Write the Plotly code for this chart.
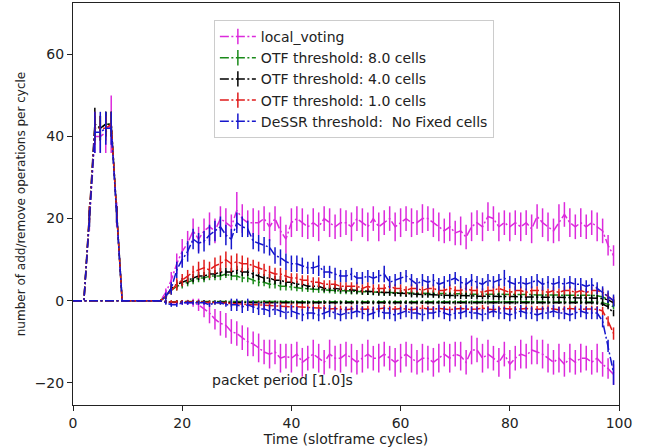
import plotly.graph_objects as go

# ---------------- data (x = slotframe cycle index 0..99) ----------------
lv_add = [0,0,0,19,40,40,41,43,21,0,
          0,0,0,0,0,0,0,2,5,9,
          12,14,17,15,17,18,17,20,19,18,
          22,20,19,19,19,20,18,20,17,15,
          19,20,19,18,19,18,20,19,18,19,
          19,18,20,19,18,20,18,19,20,18,
          19,20,19,19,20,20,19,18,17,18,
          16.5,17,15.5,18,19,18,20.5,20,18,19,
          18,19,18,19,17.5,20.5,19,18,17,19,
          21,19,18,19,18,19,18,17,13.5,11]
lv_add_err = [0,0,0,2,4,4,5,7,3,0,
              0,0,0,0,0,0,0,1,2,2.5,
              3,3,3,3,3,3.5,3,3,3.5,3,
              4.5,3.5,3,3.5,3,3,3.5,3,3.5,3.5,
              3.5,3,3.5,3,3.5,3.5,3,3.5,3,3.5,
              3,3.5,3,3.5,3.5,3,3.5,3,3,3.5,
              3.5,3,3.5,3,3.5,3,3.5,3.5,3,3.5,
              3,3.5,3,3.5,3,3.5,3.5,3,3.5,3,
              3.5,3,3.5,3,3.5,3,3.5,3.5,3,4.5,
              3,3.5,3,3.5,3,3,3.5,3,2.5,2.5]
lv_rem = [0,0,0,0,0,0,0,0,0,0,
          0,0,0,0,0,0,0,0,-0.5,-0.5,
          -0.5,-0.5,-0.5,-1,-2,-3,-4.5,-5.5,-6,-7.5,
          -8,-9,-10,-10.5,-11.5,-12.5,-13,-12.5,-14,-13.5,
          -14,-13,-15,-14,-13,-14,-15,-13,-14,-14,
          -13,-14,-15,-14,-13,-14,-14,-13,-14,-15,
          -14,-13,-14,-15,-14,-14,-15,-14,-13,-14,
          -13,-13.5,-15,-12,-12,-14,-13,-14,-15,-13,
          -15.5,-14,-13,-13.5,-12,-12.5,-13,-14,-15,-14,
          -15.5,-14,-15,-14,-14,-15,-14,-15.5,-16.5,-18]
lv_rem_err = [0,0,0,0,0,0,0,0,0,0,
              0,0,0,0,0,0,0,0,0.5,0.5,
              0.5,0.5,1,1.5,2,2.5,2.5,3,3,3,
              3,3,3.5,3,3.5,3,3.5,3,3.5,3,
              3.5,3,3.5,3,3.5,3.5,3,3.5,3,3.5,
              3,3.5,3,3.5,3.5,3,3.5,3,3,3.5,
              3.5,3,3.5,3,3.5,3,3.5,3.5,3,3.5,
              3,3.5,3,3.5,3,3.5,3.5,3,3.5,3,
              3.5,3,3.5,3,3.5,3,3.5,3.5,3,3.5,
              3,3.5,3,3.5,3,3,3.5,3,2.5,2.5]

otf8_add = [0,0,0,20,42,42,43,43,21,0,
            0,0,0,0,0,0,0,1,2.5,3.5,
            4,4.5,5,5.5,5.5,6,6,6,6.5,6,
            6,5.5,5.5,5,4.5,4.5,4,4,3.5,3.5,
            3.3,3.1,3,2.9,2.8,2.7,2.6,2.6,2.5,2.4,
            2.4,2.3,2.3,2.2,2.2,2.1,2.1,2,2,2,
            1.9,1.9,1.9,1.8,1.8,1.8,1.8,1.7,1.7,1.7,
            1.7,1.7,1.6,1.6,1.6,1.6,1.6,1.6,1.5,1.5,
            1.5,1.5,1.5,1.5,1.5,1.4,1.4,1.4,1.4,1.4,
            1.4,1.3,1.3,1.3,1.3,1.3,1.2,0.9,0.3,-0.5]
otf8_add_err = [0,0,0,2,3,3,3,3,2,0,
                0,0,0,0,0,0,0,0.5,1,1,
                1,1,1,1,1,1,1,1,1,1,
                1,1,1,1,1,1,1,1,1,1,
                0.8,0.8,0.8,0.8,0.8,0.8,0.8,0.8,0.8,0.8,
                0.8,0.8,0.8,0.8,0.8,0.8,0.8,0.8,0.8,0.8,
                0.8,0.8,0.8,0.8,0.8,0.8,0.8,0.8,0.8,0.8,
                0.8,0.8,0.8,0.8,0.8,0.8,0.8,0.8,0.8,0.8,
                0.8,0.8,0.8,0.8,0.8,0.8,0.8,0.8,0.8,0.8,
                0.8,0.8,0.8,0.8,0.8,0.8,0.8,0.8,0.8,0.8]
otf8_rem = [0,0,0,0,0,0,0,0,0,0,
            0,0,0,0,0,0,0,-0.2,-0.3,-0.2,
            -0.2,-0.2,-0.2,-0.2,-0.2,-0.2,-0.2,-0.2,-0.2,-0.2,
            -0.2,-0.2,-0.2,-0.2,-0.2,-0.2,-0.2,-0.2,-0.2,-0.2,
            -0.2,-0.2,-0.2,-0.2,-0.2,-0.2,-0.2,-0.2,-0.2,-0.2,
            -0.2,-0.2,-0.2,-0.2,-0.2,-0.2,-0.2,-0.2,-0.2,-0.2,
            -0.2,-0.2,-0.2,-0.2,-0.2,-0.2,-0.2,-0.2,-0.2,-0.2,
            -0.2,-0.2,-0.2,-0.2,-0.2,-0.2,-0.2,-0.2,-0.2,-0.2,
            -0.2,-0.2,-0.2,-0.2,-0.2,-0.2,-0.2,-0.2,-0.2,-0.2,
            -0.2,-0.2,-0.2,-0.2,-0.2,-0.2,-0.3,-0.5,-0.9,-1.5]
otf8_rem_err = [0]*17 + [0.3]*80 + [0.4,0.5,0.6]

otf4_add = [0,0,0,21,43,42,43,43,21,0,
            0,0,0,0,0,0,0,1,3,4,
            4.5,5,5.5,6,6,6.5,6.5,7,7,7,
            7.5,7,7,6.5,6,5.5,5.5,5,5,4.5,
            4.5,4,4,3.5,3.5,3.5,3,3,3,2.8,
            2.7,2.5,2.5,2.3,2.2,2.2,2,2,2,1.8,
            1.8,1.7,1.6,1.6,1.5,1.5,1.5,1.4,1.3,1.3,
            1.3,1.2,1.2,1.2,1.1,1.1,1.1,1,1,1,
            1,1,0.9,0.9,0.9,0.9,0.9,0.8,0.8,0.8,
            0.8,0.8,0.7,0.7,0.7,0.7,0.6,0.5,0.2,-0.5]
otf4_add_err = [0,0,0,2,4,3,3,3,2,0,
                0,0,0,0,0,0,0,0.5,1,1,
                1,1,1,1,1,1,1,1,1,1,
                1,1,1,1,1,1,1,1,1,1,
                0.8,0.8,0.8,0.8,0.8,0.8,0.8,0.8,0.8,0.8,
                0.8,0.8,0.8,0.8,0.8,0.8,0.8,0.8,0.8,0.8,
                0.8,0.8,0.8,0.8,0.8,0.8,0.8,0.8,0.8,0.8,
                0.8,0.8,0.8,0.8,0.8,0.8,0.8,0.8,0.8,0.8,
                0.8,0.8,0.8,0.8,0.8,0.8,0.8,0.8,0.8,0.8,
                0.8,0.8,0.8,0.8,0.8,0.8,0.8,0.8,0.8,0.8]
otf4_rem = [0,0,0,0,0,0,0,0,0,0,
            0,0,0,0,0,0,0,-0.3,-0.4,-0.3,
            -0.3,-0.3,-0.3,-0.4,-0.3,-0.4,-0.4,-0.4,-0.4,-0.5,
            -0.4,-0.5,-0.4,-0.5,-0.5,-0.4,-0.5,-0.5,-0.5,-0.4,
            -0.5,-0.5,-0.4,-0.5,-0.5,-0.5,-0.4,-0.5,-0.5,-0.5,
            -0.4,-0.5,-0.5,-0.5,-0.4,-0.5,-0.5,-0.4,-0.5,-0.5,
            -0.5,-0.4,-0.5,-0.5,-0.4,-0.5,-0.5,-0.5,-0.4,-0.5,
            -0.5,-0.4,-0.5,-0.5,-0.5,-0.4,-0.5,-0.5,-0.4,-0.5,
            -0.5,-0.5,-0.4,-0.5,-0.5,-0.4,-0.5,-0.5,-0.5,-0.4,
            -0.5,-0.5,-0.4,-0.5,-0.5,-0.5,-0.6,-0.8,-1.5,-3]
otf4_rem_err = [0]*17 + [0.4]*80 + [0.5,0.6,0.8]

otf1_add = [0,0,0,21,42,42,42,43,21,0,
            0,0,0,0,0,0,0,1,2.5,4,
            5,6,7,7.5,8,7.5,8.5,9,10,9,
            9.5,9,9,8.5,8,7.5,7,6.5,6.5,6,
            5.5,5.5,5,5,4.5,4.5,4,4,4,3.5,
            3.5,3.5,3.5,3,3.5,3,3,3,3.5,3,
            3,2.5,3,3,2.5,3,3,2.5,2.5,3,
            2.5,2.5,3,2.5,2.5,2,2.5,2.5,3,2.5,
            2,2.5,2.5,2,2.5,2.5,2.5,2,2.5,2,
            2.5,2.5,2,2.5,2,2.5,2.5,2,1,0]
otf1_add_err = [0,0,0,2,4,3,3,3,2,0,
                0,0,0,0,0,0,0,0.5,1,1.5,
                1.5,1.5,1.5,2,2,2,2,2,2,2,
                2,2,1.5,1.5,1.5,1.5,1.5,1.5,1.5,1.5,
                1.2,1.2,1.2,1.2,1.2,1.2,1,1,1,1,
                1,1,1,1,1,1,1,1,1,1,
                1,1,1,1,1,1,1,1,1,1,
                1,1,1,1,1,1,1,1,1,1,
                1,1,1,1,1,1,1,1,1,1,
                1,1,1,1,1,1,1,1,1,1]
otf1_rem = [0,0,0,0,0,0,0,0,0,0,
            0,0,0,0,0,0,0,-0.3,-0.3,-0.3,
            -0.2,-0.2,-0.3,-0.3,-0.4,-0.4,-0.5,-0.5,-0.6,-0.7,
            -0.8,-0.8,-0.9,-1,-1,-1.1,-1.2,-1.3,-1.3,-1.4,
            -1.5,-1.5,-1.6,-1.7,-1.7,-1.8,-1.8,-2,-1.9,-2,
            -2.2,-2,-1.9,-2.1,-2,-2.2,-2,-1.8,-2,-2.1,
            -1.9,-2,-2.2,-2,-1.8,-2,-2.1,-1.9,-2,-2.2,
            -2,-1.9,-2,-2.1,-2,-1.8,-2,-2.2,-2,-1.9,
            -2,-2.1,-2,-1.9,-2,-2.1,-2,-1.9,-2,-2.2,
            -2,-1.9,-2,-2.1,-2,-2,-2.1,-2.5,-5,-8]
otf1_rem_err = [0]*17 + [0.4]*12 + [0.8]*68 + [1,1.2,1.5]

dessr_add = [0,0,0,20,41,41,42,42,21,0,
             0,0,0,0,0,0,0,1,3,7.5,
             10,12,15,14,14.5,16,17,18,16,15,
             19,18,17.5,14.5,14,13.5,13,11,10.5,9.5,
             9,9,8.5,8,8,8.5,7,7,6.5,6,
             6,6.5,5.5,5.5,6,5.5,6,6.5,4.5,5,
             5.5,6,5,4,5,4.5,5,4,4.5,5,
             5.5,4.5,4,5,4.5,4,5,4.5,5,5.5,
             4.5,4,4.5,4,4.5,5,4,4.5,4,4.5,
             4,4.5,4,4,3.5,4,3,2,1,0]
dessr_add_err = [0,0,0,2,5,5,4,4,2,0,
                 0,0,0,0,0,0,0,1,1.5,2,
                 2,2.5,2.5,2.5,2.5,2.5,2.5,2.5,2.5,2.5,
                 2.5,2.5,2,2,2,2,2,2,2,2,
                 2,2,2,1.5,1.5,2.5,1.5,1.5,1.5,1.5,
                 1.5,1.5,1.5,1.5,1.5,1.5,1.5,2,1.5,1.5,
                 1.5,1.5,1.5,1.5,1.5,1.5,1.5,1.5,1.5,1.5,
                 1.5,1.5,1.5,1.5,1.5,1.5,1.5,1.5,1.5,2,
                 1.5,1.5,1.5,1.5,1.5,1.5,1.5,1.5,1.5,1.5,
                 1.5,1.5,1.5,1.5,1.5,1.5,1.5,1.5,1.5,1.5]
dessr_rem = [0,0,0,0,0,0,0,0,0,0,
             0,0,0,0,0,0,0,-0.5,-1,-1,
             -0.5,-0.5,-0.5,-0.5,-0.5,-1,-0.5,-0.5,-1,-1,
             -1,-1.5,-1,-1.5,-2,-2,-2.5,-2,-2.5,-3,
             -2.5,-3,-3.5,-3,-3,-3.5,-3,-2.5,-3,-3.5,
             -3,-3,-2.5,-3,-3.5,-3,-2.5,-3,-3,-3.5,
             -3,-2.5,-3,-3,-3.5,-3,-3,-2.5,-3,-3.5,
             -3,-3,-2.5,-3,-3,-3.5,-3,-2.5,-3,-3,
             -3.5,-3,-2.5,-3,-3,-3.5,-3,-3,-2.5,-3,
             -3,-3.5,-3,-2.5,-3,-3,-3,-5,-11,-17.5]
dessr_rem_err = [0]*17 + [0.5]*12 + [1.5]*68 + [1.5,1.5,3]

series_names = ["local_voting", "OTF threshold: 8.0 cells", "OTF threshold: 4.0 cells",
                "OTF threshold: 1.0 cells", "DeSSR threshold:  No Fixed cells"]
series_add = [lv_add, otf8_add, otf4_add, otf1_add, dessr_add]
series_add_err = [lv_add_err, otf8_add_err, otf4_add_err, otf1_add_err, dessr_add_err]
series_rem = [lv_rem, otf8_rem, otf4_rem, otf1_rem, dessr_rem]
series_rem_err = [lv_rem_err, otf8_rem_err, otf4_rem_err, otf1_rem_err, dessr_rem_err]
colors = ["#dc2adc", "#1a8a1a", "#000000", "#e01b1b", "#1616cc"]

DASH = "9px,2.5px,2px,2.5px"
FONT = "DejaVu Sans"

fig = go.Figure()
for name, add, adde, rem, reme, c in zip(series_names, series_add, series_add_err,
                                          series_rem, series_rem_err, colors):
    for ys, es in ((add, adde), (rem, reme)):
        n = min(len(ys), len(es))
        fig.add_trace(go.Scatter(
            x=list(range(n)), y=ys[:n], mode="lines", showlegend=False,
            line=dict(color=c, width=1.5, dash=DASH),
            error_y=dict(type="data", array=es[:n], visible=True, color=c,
                         thickness=1.5, width=0),
            hoverinfo="skip"))
    # legend entry mimicking matplotlib errorbar handle
    fig.add_trace(go.Scatter(
        x=[None], y=[None], mode="lines+markers", name=name,
        line=dict(color=c, width=1.5, dash=DASH),
        marker=dict(symbol="line-ns", size=11, color=c, line=dict(width=1.5, color=c))))

fig.add_annotation(x=25, y=-19.3, text="packet period [1.0]s", showarrow=False,
                   xanchor="left", yanchor="middle",
                   font=dict(family=FONT, size=14, color="#222"))

axis_common = dict(showgrid=False, zeroline=False, showline=True, linecolor="#222",
                   linewidth=1, ticks="outside", ticklen=5, tickcolor="#222",
                   tickfont=dict(family=FONT, size=14, color="#222"), mirror=True)

fig.update_layout(
    width=647, height=448,
    margin=dict(l=73, r=28, t=3, b=43),
    paper_bgcolor="white", plot_bgcolor="white",
    font=dict(family=FONT, size=14, color="#222"),
    xaxis=dict(range=[0, 100], tickvals=[0, 20, 40, 60, 80, 100],
               title=dict(text="Time (slotframe cycles)", standoff=2,
                          font=dict(family=FONT, size=14, color="#222")),
               **axis_common),
    yaxis=dict(range=[-25.4, 72.5], tickvals=[-20, 0, 20, 40, 60],
               title=dict(text="number of add/remove operations per cycle", standoff=6,
                          font=dict(family=FONT, size=12, color="#222")),
               **axis_common),
    legend=dict(x=0.258, y=0.958, xanchor="left", yanchor="top",
                bgcolor="white", bordercolor="#cccccc", borderwidth=1,
                font=dict(family=FONT, size=14, color="#222"),
                itemwidth=36),
    showlegend=True,
)

fig.write_html("out.html")
